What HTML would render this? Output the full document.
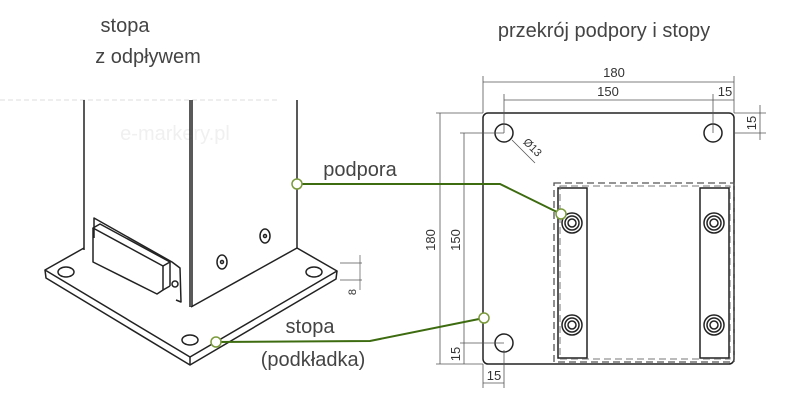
<!DOCTYPE html><html><head><style>body{margin:0;background:#fff}svg{display:block}text{font-family:"Liberation Sans",sans-serif}</style></head><body>
<svg width="800" height="400" viewBox="0 0 800 400" xmlns="http://www.w3.org/2000/svg">
<g font-size="20" fill="#444" text-anchor="middle">
<text x="125" y="32">stopa</text><text x="148" y="63">z odpływem</text>
<text x="604" y="37">przekrój podpory i stopy</text>
<text x="360" y="176">podpora</text>
<text x="310" y="333">stopa</text><text x="313" y="366">(podkładka)</text>
</g>
<line x1="0" y1="100" x2="280" y2="100" stroke="#ddd" stroke-dasharray="5,3"/>
<text x="175" y="140" font-size="20" fill="#f0f0f0" text-anchor="middle">e-markery.pl</text>
<g stroke="#222" stroke-width="1.5" fill="none" stroke-linejoin="round">
<line x1="84" y1="100" x2="84" y2="250"/><line x1="190" y1="100" x2="190" y2="307"/><line x1="192" y1="100" x2="192" y2="307"/><line x1="297" y1="100" x2="297" y2="248"/>
<polyline points="191,307 297,248"/>
<polyline points="84,248 45,270 190,357 337,271 297,248"/>
<polyline points="45,270 46,278 190,365 336,279 337,271"/>
<line x1="190" y1="357" x2="190" y2="365"/>
<ellipse cx="66" cy="272" rx="8" ry="5"/><ellipse cx="190" cy="340" rx="8" ry="5"/><ellipse cx="314" cy="272" rx="8" ry="5"/>
<!-- bracket back plate -->
<polyline points="94,238 94,218 172,262 180,268 181,302 176,300"/>
<!-- block -->
<polygon points="93,228 100,224 170,262 163,266"/>
<polyline points="93,228 93,262 157,294 163,290 163,266"/>
<line x1="170" y1="262" x2="170" y2="286"/><line x1="163" y1="290" x2="170" y2="286"/>
<circle cx="175" cy="284" r="3"/>
<ellipse cx="222" cy="262" rx="5" ry="7"/><circle cx="222" cy="262" r="1.5"/>
<ellipse cx="265" cy="236" rx="5" ry="7"/><circle cx="265" cy="236" r="1.5"/>
</g>
<g stroke="#555" stroke-width="0.7" fill="none">
<line x1="340" y1="263" x2="362" y2="263"/><line x1="340" y1="280" x2="362" y2="280"/><line x1="360" y1="255" x2="360" y2="290"/>
</g>
<text font-size="11" fill="#333" transform="translate(356,292) rotate(-90)" text-anchor="middle">8</text>
<g stroke="#222" stroke-width="1.5" fill="none">
<rect x="483" y="113" width="251" height="251" rx="5"/>
<circle cx="504" cy="133" r="9"/><circle cx="713" cy="133" r="9"/><circle cx="504" cy="343" r="9"/>
<rect x="558" y="188" width="29" height="170"/><rect x="700" y="188" width="29" height="170"/>
</g>
<rect x="554" y="183" width="180" height="179" fill="none" stroke="#555" stroke-width="1.3" stroke-dasharray="7,4"/>
<rect x="560" y="186" width="170" height="173" fill="none" stroke="#777" stroke-width="1" stroke-dasharray="7,4"/>
<g stroke="#222" stroke-width="1.5" fill="none">
<circle cx="572" cy="223" r="10"/><circle cx="572" cy="223" r="7"/><circle cx="572" cy="223" r="4"/>
<circle cx="714" cy="223" r="10"/><circle cx="714" cy="223" r="7"/><circle cx="714" cy="223" r="4"/>
<circle cx="572" cy="325" r="10"/><circle cx="572" cy="325" r="7"/><circle cx="572" cy="325" r="4"/>
<circle cx="714" cy="325" r="10"/><circle cx="714" cy="325" r="7"/><circle cx="714" cy="325" r="4"/>
</g>
<g stroke="#555" stroke-width="0.8" fill="none">
<line x1="483" y1="82" x2="734" y2="82"/><line x1="483" y1="76" x2="483" y2="113"/><line x1="734" y1="76" x2="734" y2="113"/>
<line x1="504" y1="100" x2="734" y2="100"/><line x1="504" y1="94" x2="504" y2="133"/><line x1="713" y1="94" x2="713" y2="133"/>
<line x1="440" y1="113" x2="440" y2="364"/><line x1="436" y1="113" x2="483" y2="113"/><line x1="436" y1="364" x2="483" y2="364"/>
<line x1="464" y1="133" x2="464" y2="364"/><line x1="460" y1="133" x2="504" y2="133"/><line x1="460" y1="343" x2="504" y2="343"/>
<line x1="734" y1="113" x2="766" y2="113"/><line x1="734" y1="133" x2="766" y2="133"/><line x1="760" y1="105" x2="760" y2="140"/>
<line x1="483" y1="364" x2="483" y2="388"/><line x1="504" y1="350" x2="504" y2="388"/><line x1="483" y1="383" x2="504" y2="383"/>
<line x1="512" y1="140" x2="535" y2="163"/>
</g>
<g font-size="13" fill="#333" text-anchor="middle">
<text x="614" y="77">180</text><text x="608" y="96">150</text><text x="725" y="96">15</text>
<text transform="translate(435,240) rotate(-90)">180</text>
<text transform="translate(460,240) rotate(-90)">150</text>
<text transform="translate(460,354) rotate(-90)">15</text>
<text transform="translate(756,123) rotate(-90)">15</text>
<text x="494" y="380">15</text>
<text transform="translate(530,150) rotate(45)" font-size="11">Ø13</text>
</g>
<g stroke="#3d6b10" stroke-width="2" fill="none">
<polyline points="297,184 500,184 561,214"/>
<polyline points="216,342 370,341 484,318"/>
</g>
<g fill="#fff" stroke="#7a9a3a" stroke-width="1.5">
<circle cx="297" cy="184" r="5"/><circle cx="561" cy="214" r="5"/><circle cx="216" cy="342" r="5"/><circle cx="484" cy="318" r="5"/>
</g>
</svg></body></html>
